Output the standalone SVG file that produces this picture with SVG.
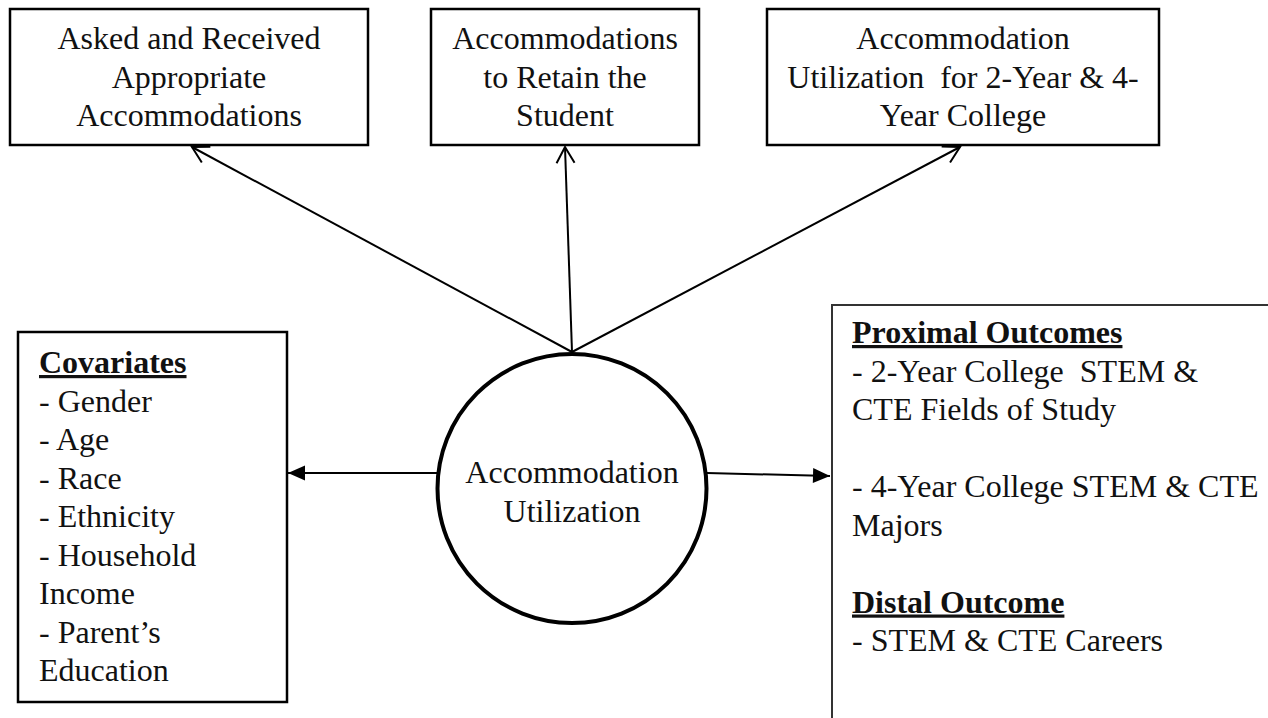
<svg xmlns="http://www.w3.org/2000/svg" width="1268" height="718" viewBox="0 0 1268 718">
  <style>
    .box { fill: #fff; stroke: #000; stroke-width: 2.5; }
    .t { font-family: "Liberation Serif", "Times New Roman", serif; font-size: 32px; fill: #111; }
    .c { text-anchor: middle; }
    .h { font-weight: bold; text-decoration: underline; }
    .conn { stroke: #000; stroke-width: 2; fill: none; }
  </style>
  <defs>
    <marker id="open" markerUnits="userSpaceOnUse" viewBox="-20 -12 24 24" refX="0" refY="0" markerWidth="24" markerHeight="24" orient="auto">
      <path d="M-16,-9 L0,0 L-16,9" fill="none" stroke="#000" stroke-width="2"/>
    </marker>
    <marker id="solid" markerUnits="userSpaceOnUse" viewBox="-20 -10 22 20" refX="0" refY="0" markerWidth="22" markerHeight="20" orient="auto">
      <path d="M-17,-7.5 L0,0 L-17,7.5 Z" fill="#000"/>
    </marker>
  </defs>
  <rect width="1268" height="718" fill="#fff"/>

  <g id="node-asked">
    <rect class="box" x="10" y="9" width="358" height="136"/>
    <text class="t c" x="189" y="49">Asked and Received</text>
    <text class="t c" x="189" y="87.5">Appropriate</text>
    <text class="t c" x="189" y="126">Accommodations</text>
  </g>

  <g id="node-retain">
    <rect class="box" x="431" y="9" width="268" height="136"/>
    <text class="t c" x="565" y="49">Accommodations</text>
    <text class="t c" x="565" y="87.5">to Retain the</text>
    <text class="t c" x="565" y="126">Student</text>
  </g>

  <g id="node-college">
    <rect class="box" x="767" y="9" width="392" height="136"/>
    <text class="t c" x="963" y="49">Accommodation</text>
    <text class="t c" x="963" y="87.5" xml:space="preserve">Utilization  for 2-Year &amp; 4-</text>
    <text class="t c" x="963" y="126">Year College</text>
  </g>

  <g id="node-covariates">
    <rect class="box" x="18" y="332" width="269" height="370"/>
    <text class="t h" x="39" y="373">Covariates</text>
    <text class="t" x="39" y="411.5">- Gender</text>
    <text class="t" x="39" y="450">- Age</text>
    <text class="t" x="39" y="488.5">- Race</text>
    <text class="t" x="39" y="527">- Ethnicity</text>
    <text class="t" x="39" y="565.5">- Household</text>
    <text class="t" x="39" y="604">Income</text>
    <text class="t" x="39" y="642.5">- Parent’s</text>
    <text class="t" x="39" y="681">Education</text>
  </g>

  <g id="node-outcomes">
    <rect x="832" y="305" width="460" height="440" fill="#fff" stroke="#333" stroke-width="2"/>
    <text class="t h" x="852" y="343">Proximal Outcomes</text>
    <text class="t" x="852" y="381.5" xml:space="preserve">- 2-Year College  STEM &amp;</text>
    <text class="t" x="852" y="420">CTE Fields of Study</text>
    <text class="t" x="852" y="497">- 4-Year College STEM &amp; CTE</text>
    <text class="t" x="852" y="535.5">Majors</text>
    <text class="t h" x="852" y="612.5">Distal Outcome</text>
    <text class="t" x="852" y="651">- STEM &amp; CTE Careers</text>
  </g>

  <g id="connectors">
    <line class="conn" x1="572" y1="352" x2="192" y2="147" marker-end="url(#open)"/>
    <line class="conn" x1="572" y1="352" x2="565" y2="147" marker-end="url(#open)"/>
    <line class="conn" x1="572" y1="352" x2="960" y2="147" marker-end="url(#open)"/>
    <line class="conn" x1="438" y1="473" x2="288" y2="473" marker-end="url(#solid)"/>
    <line class="conn" x1="707" y1="473" x2="830" y2="476" marker-end="url(#solid)"/>
  </g>

  <g id="node-center">
    <circle cx="572" cy="488.5" r="134.5" fill="#fff" stroke="#000" stroke-width="4"/>
    <text class="t c" x="572" y="483">Accommodation</text>
    <text class="t c" x="572" y="521.5">Utilization</text>
  </g>
</svg>
